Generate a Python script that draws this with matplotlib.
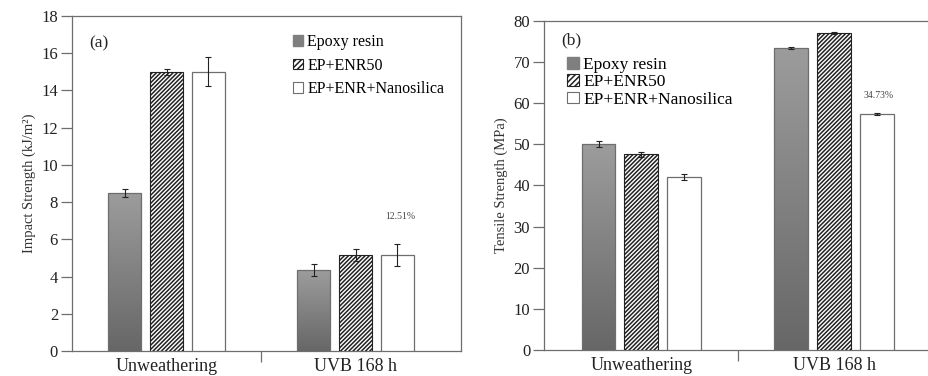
import matplotlib
matplotlib.use("Agg")
import matplotlib.pyplot as plt
from matplotlib.colors import LinearSegmentedColormap
import numpy as np

plt.rcParams['font.family'] = ['Liberation Serif', 'DejaVu Serif']
plt.rcParams['hatch.linewidth'] = 1.1

# data
groups = ["Unweathering", "UVB 168 h"]
series = ["Epoxy resin", "EP+ENR50", "EP+ENR+Nanosilica"]

impact = [[8.5, 4.33], [15.0, 5.15], [15.0, 5.15]]
impact_err = [[0.2, 0.32], [0.17, 0.33], [0.77, 0.58]]

tensile = [[50.0, 73.4], [47.5, 77.1], [42.0, 57.3]]
tensile_err = [[0.7, 0.2], [0.7, 0.25], [0.8, 0.2]]

impact_note = ("12.51%", 1.235, 7.25)
tensile_note = ("34.73%", 1.229, 61.7)

grad = LinearSegmentedColormap.from_list("g", ["#676767", "#9c9c9c"])
edge = "#6e6e6e"


def gradient_bar(ax, bar):
    x, y = bar.get_x(), bar.get_y()
    w, h = bar.get_width(), bar.get_height()
    img = np.linspace(0, 1, 100).reshape(-1, 1)
    im = ax.imshow(img, cmap=grad, origin="lower", aspect="auto",
                   extent=(x, x + w, y, y + h), zorder=2)
    im.set_clip_path(bar)


def draw_panel(ax, vals, errs, note, tag, ylim, yticks, ylabel, xlim,
               leg_anchor, leg_size, leg_spacing):
    x = np.arange(len(groups))
    offs = [-0.222, 0.0, 0.222]
    width = 0.175
    handles = []
    for i, name in enumerate(series):
        if i == 0:
            bars = ax.bar(x + offs[i], vals[i], width, facecolor="none",
                          edgecolor=edge, linewidth=0.9, zorder=3)
            for b in bars:
                gradient_bar(ax, b)
            h = plt.Rectangle((0, 0), 1, 1, facecolor="#7f7f7f", edgecolor="#7f7f7f")
        elif i == 1:
            bars = ax.bar(x + offs[i], vals[i], width, facecolor="white",
                          edgecolor="#222222", hatch="////////", linewidth=0.8, zorder=3)
            h = plt.Rectangle((0, 0), 1, 1, facecolor="white", edgecolor="#222222",
                              hatch="//////", linewidth=0.8)
        else:
            bars = ax.bar(x + offs[i], vals[i], width, facecolor="white",
                          edgecolor=edge, linewidth=0.9, zorder=3)
            h = plt.Rectangle((0, 0), 1, 1, facecolor="white", edgecolor=edge,
                              linewidth=0.8)
        ax.errorbar(x + offs[i], vals[i], yerr=errs[i], fmt="none", ecolor="#222222",
                    elinewidth=0.8, capsize=2, capthick=0.8, zorder=4)
        handles.append(h)

    ax.set_xlim(*xlim)
    ax.set_ylim(*ylim)
    ax.set_yticks(yticks)
    ax.tick_params(axis="y", direction="out", length=8, width=0.9, color=edge,
                   labelsize=12, pad=2, labelcolor="#222222")
    ax.set_xticks([0.5])
    ax.set_xticklabels([""])
    ax.set_xticks(x, minor=True)
    ax.set_xticklabels(groups, minor=True, fontsize=13)
    ax.tick_params(axis="x", which="major", direction="out", length=8, width=0.9, color=edge)
    ax.tick_params(axis="x", which="minor", length=0, pad=5, labelcolor="#222222")
    ax.set_ylabel(ylabel, fontsize=10.5, labelpad=4, color="#333333")
    for s in ax.spines.values():
        s.set_color(edge)
        s.set_linewidth(0.9)

    ax.text(0.044, tag[1], tag[0], transform=ax.transAxes, fontsize=12.5,
            ha="left", va="center", color="#222222")
    ax.text(note[1], note[2], note[0], fontsize=7, ha="center", va="center",
            color="#444444")
    ax.legend(handles, series, loc="upper left", bbox_to_anchor=leg_anchor,
              frameon=False, fontsize=leg_size, handlelength=0.65, handleheight=0.65,
              handletextpad=0.25, labelspacing=leg_spacing, borderpad=0,
              borderaxespad=0)


fig = plt.figure(figsize=(9.29, 3.76), dpi=100)
ax1 = fig.add_axes([0.0775, 0.0665, 0.4187, 0.891])
ax2 = fig.add_axes([0.5856, 0.0691, 0.4200, 0.876])

draw_panel(ax1, impact, impact_err, impact_note, ("(a)", 0.919), (0, 18),
           range(0, 19, 2), "Impact Strength (kJ/m²)", (-0.5, 1.558),
           (0.568, 0.945), 11.5, 0.45)
draw_panel(ax2, tensile, tensile_err, tensile_note, ("(b)", 0.94), (0, 80),
           range(0, 81, 10), "Tensile Strength (MPa)", (-0.505, 1.52),
           (0.06, 0.89), 12.5, 0.08)
ax2.spines["right"].set_visible(False)

fig.savefig("out.png", dpi=100)
